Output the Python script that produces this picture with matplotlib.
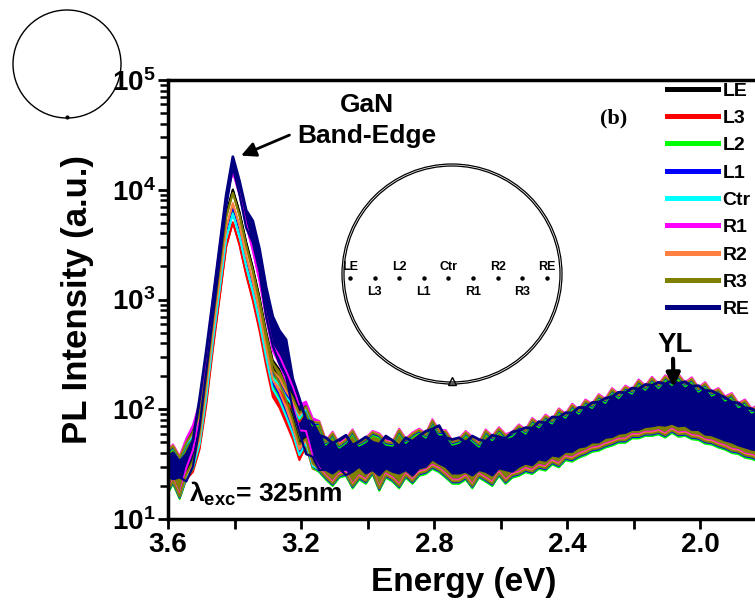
import matplotlib
matplotlib.use('Agg')
import matplotlib.pyplot as plt
import numpy as np
from matplotlib.patches import Ellipse
from matplotlib.lines import Line2D
from matplotlib.ticker import FixedLocator, FuncFormatter, LogLocator, NullFormatter

plt.rcParams['font.family'] = ['Liberation Sans', 'DejaVu Sans']
plt.rcParams['font.weight'] = 'bold'
plt.rcParams['mathtext.fontset'] = 'custom'
plt.rcParams['mathtext.rm'] = 'Liberation Sans:bold'
plt.rcParams['mathtext.it'] = 'Liberation Sans:bold'
plt.rcParams['mathtext.bf'] = 'Liberation Sans:bold'
plt.rcParams['mathtext.default'] = 'bf'

# energy grid (eV), 0.02 eV step
energy = np.round(3.605 - 0.02 * np.arange(93), 3)

names = ['LE', 'L3', 'L2', 'L1', 'Ctr', 'R1', 'R2', 'R3', 'RE']
colors = ['#000000', '#ff0000', '#00ff00', '#0000ff', '#00ffff',
          '#ff00ff', '#ff8040', '#808000', '#000080']

# band-edge peak height (a.u.) of each spot except RE
peak_int = [1.0e4, 5.0e3, 6.5e3, 7.0e3, 6.0e3, 1.45e4, 7.5e3, 9.3e3]
# background level relative to the common noise band
bg_level = [1.0, 0.97, 0.95, 0.98, 1.01, 1.04, 1.02, 1.0]

# band-edge emission profile (normalised), energies 3.545 ... 3.165
edge_e = [3.545, 3.525, 3.505, 3.485, 3.465, 3.445, 3.425, 3.405, 3.385, 3.365,
          3.345, 3.325, 3.305, 3.285, 3.265, 3.245, 3.225, 3.205, 3.185, 3.165]
edge_v = [0.0005, 0.0015, 0.004, 0.018, 0.065, 0.20, 0.60, 1.0, 0.62, 0.33,
          0.19, 0.10, 0.045, 0.022, 0.016, 0.011, 0.006, 0.003, 0.0015, 0.0007]

# noise band (upper / lower edge) of the background PL, all spots but RE
bg_hi = [40, 46, 36, 45, 48,
         55, 52, 58, 54, 60, 56, 62, 56, 64, 58, 66, 60, 70, 62, 72, 64,
         92, 70, 75,
         50, 60, 47, 52, 63, 49, 53, 61, 58, 50, 49, 64, 52, 59,
         64, 58, 78, 62, 62, 50,
         52, 61, 54, 48, 63, 55, 66, 57, 60,
         70, 63, 80, 72, 86, 78, 98, 88, 108, 96,
         118, 108, 132, 120, 150, 133, 158, 146, 180, 158,
         190, 164, 196, 175, 200, 170, 188, 152, 170, 140,
         150, 126, 135, 110, 118, 98, 106, 88, 96, 82]
bg_lo = [17, 22, 16, 21, 20,
         24, 19, 24, 19, 24, 19, 24, 19, 24, 19, 24, 20, 24, 20, 24, 20,
         40, 26, 28,
         24, 21, 25, 26, 20, 24, 22, 27, 19, 25, 23, 20, 25, 22,
         26, 27, 30, 28, 25, 22,
         22, 24, 20, 25, 23, 21, 26, 22, 25,
         26, 28, 27, 30, 29, 33, 31, 36, 35, 38,
         40, 43, 44, 47, 49, 52, 52, 57, 57, 60,
         60, 62, 58, 64, 59, 60, 56, 55, 51, 50,
         47, 45, 42, 41, 38, 37, 35, 35, 33, 32]

# RE spectrum (upper / lower edge of the noisy trace)
re_hi = [36, 40, 33, 39, 52,
         125, 340, 1000, 3000, 9000, 20000, 12000, 6500, 5200, 2900, 1300, 700, 520, 430, 190, 125,
         80, 76, 58,
         55, 49, 53, 58, 47, 51, 56, 50, 48, 57, 52, 46, 55, 51,
         57, 63, 66, 71, 55, 53,
         55, 50, 57, 53, 51, 58, 56, 54, 62,
         64, 68, 67, 77, 75, 85, 84, 93, 92, 104,
         103, 115, 116, 126, 130, 143, 141, 156, 153, 168,
         165, 176, 170, 182, 172, 178, 162, 164, 148, 147,
         136, 128, 116, 114, 103, 101, 93, 92, 84, 86]
re_lo = [25, 23, 24, 22, 30,
         70, 220, 700, 2200, 7000, 16000, 9000, 4500, 3300, 1800, 700, 380, 260, 200, 100, 62,
         39, 37, 28,
         28, 26, 29, 25, 27, 30, 26, 28, 25, 29, 27, 26, 28, 25,
         29, 30, 35, 32, 30, 26,
         26, 27, 25, 28, 27, 25, 29, 28, 27,
         30, 32, 31, 35, 34, 38, 37, 41, 41, 45,
         46, 50, 50, 55, 56, 60, 61, 65, 65, 69,
         70, 72, 71, 74, 70, 71, 65, 65, 59, 58,
         55, 52, 50, 47, 45, 43, 42, 40, 39, 38]

wafer_spots = ['LE', 'L3', 'L2', 'L1', 'Ctr', 'R1', 'R2', 'R3', 'RE']

W, H = 755, 614


def fp(x, y):
    # pixel position (from top-left) -> figure fraction
    return (x / W, 1 - y / H)


fig = plt.figure(figsize=(W / 100, H / 100), dpi=100)
ax = fig.add_axes([168 / W, (H - 519) / H, (775 - 168) / W, (519 - 80) / H])

edge = np.zeros(len(energy))
for e, v in zip(edge_e, edge_v):
    edge[np.isclose(energy, e)] = v

for name, col, pk, lv in zip(names[:-1], colors[:-1], peak_int, bg_level):
    hi = np.array(bg_hi) * lv + edge * pk
    lo = np.array(bg_lo) * lv + edge * pk
    ax.fill_between(energy, lo, hi, color=col, lw=0)
    ax.plot(energy, hi, color=col, lw=1.4)
    ax.plot(energy, lo, color=col, lw=1.4)

ax.fill_between(energy, re_lo, re_hi, color=colors[-1], lw=0)
ax.plot(energy, re_hi, color=colors[-1], lw=2.0)
ax.plot(energy, re_lo, color=colors[-1], lw=1.6)

ax.set_yscale('log')
ax.set_ylim(10, 1e5)
ax.set_xlim(3.6, 1.775)
ax.yaxis.set_major_locator(LogLocator(base=10, numticks=10))
ax.yaxis.set_major_formatter(FuncFormatter(lambda v, p: '$10^{%d}$' % round(np.log10(v))))
ax.yaxis.set_minor_locator(LogLocator(base=10, subs=np.arange(2, 10), numticks=20))
ax.yaxis.set_minor_formatter(NullFormatter())
ax.xaxis.set_major_locator(FixedLocator([3.6, 3.2, 2.8, 2.4, 2.0]))
ax.xaxis.set_minor_locator(FixedLocator([3.4, 3.0, 2.6, 2.2, 1.8]))
ax.set_xticklabels(['3.6', '3.2', '2.8', '2.4', '2.0'])
ax.tick_params(axis='both', which='major', direction='out', length=7, width=2,
               labelsize=20, pad=2)
ax.tick_params(axis='both', which='minor', direction='out', length=6, width=1.8)
ax.tick_params(axis='x', which='minor', length=7, width=2)
for s in ['left', 'bottom', 'top']:
    ax.spines[s].set_linewidth(2.5)
ax.spines['right'].set_visible(False)

fig.text(*fp(78, 300), 'PL Intensity (a.u.)', rotation=90, ha='center', va='center',
         fontsize=25, fontweight='bold')
fig.text(*fp(464, 583), 'Energy (eV)', ha='center', va='center', fontsize=24,
         fontweight='bold')

handles = [Line2D([], [], color=c, lw=3.6) for c in colors]
ax.legend(handles, names, loc='upper left', bbox_to_anchor=fp(667, 82),
          bbox_transform=fig.transFigure, frameon=False, fontsize=14,
          handlelength=2.6, handletextpad=0.25, labelspacing=0.5,
          borderpad=0, borderaxespad=0)

fig.text(*fp(367, 112), 'GaN', ha='center', va='baseline', fontsize=19, fontweight='bold')
fig.text(*fp(367, 143), 'Band-Edge', ha='center', va='baseline', fontsize=19,
         fontweight='bold')
ax.annotate('', xy=(3.388, 2.0e4), xytext=fp(292, 134), textcoords='figure fraction',
            arrowprops=dict(arrowstyle='-|>', lw=2, color='k', mutation_scale=22))
fig.text(*fp(614, 118), '(b)', ha='center', va='center', fontsize=16,
         fontweight='bold', family='Liberation Serif')
fig.text(*fp(675, 352), 'YL', ha='center', va='baseline', fontsize=20, fontweight='bold')
ax.annotate('', xy=(2.08, 150), xytext=fp(673, 356), textcoords='figure fraction',
            arrowprops=dict(arrowstyle='-|>', lw=3, color='k', mutation_scale=20))
fig.text(*fp(189, 502), r'$\lambda_{exc}$= 325nm', ha='left', va='baseline',
         fontsize=19, fontweight='bold')

# wafer sketch with the measured spots
for r in (110, 108):
    fig.add_artist(Ellipse(fp(452, 274), 2 * r / W, 2 * r / H, transform=fig.transFigure,
                           fill=False, lw=0.9, ec='k'))
fig.add_artist(Line2D([452 / W], [1 - 381 / H], marker='^', ms=6, mfc='none', mec='k',
                      mew=1, transform=fig.transFigure))
for i, sp in enumerate(wafer_spots):
    x = 350 + 24.6 * i
    fig.add_artist(Line2D([x / W], [1 - 278 / H], marker='o', ms=2.2, color='k',
                          transform=fig.transFigure))
    ty = 267 if i % 2 == 0 else 292
    fig.text(*fp(x, ty), sp, ha='center', va='center', fontsize=9, fontweight='bold')

# small wafer outline top-left
fig.add_artist(Ellipse(fp(67, 64), 2 * 54 / W, 2 * 54 / H, transform=fig.transFigure,
                       fill=False, lw=1.0, ec='k'))
fig.add_artist(Line2D([67 / W], [1 - 117 / H], marker='o', ms=2, color='k',
                      transform=fig.transFigure))

fig.savefig('out.png', dpi=100)
